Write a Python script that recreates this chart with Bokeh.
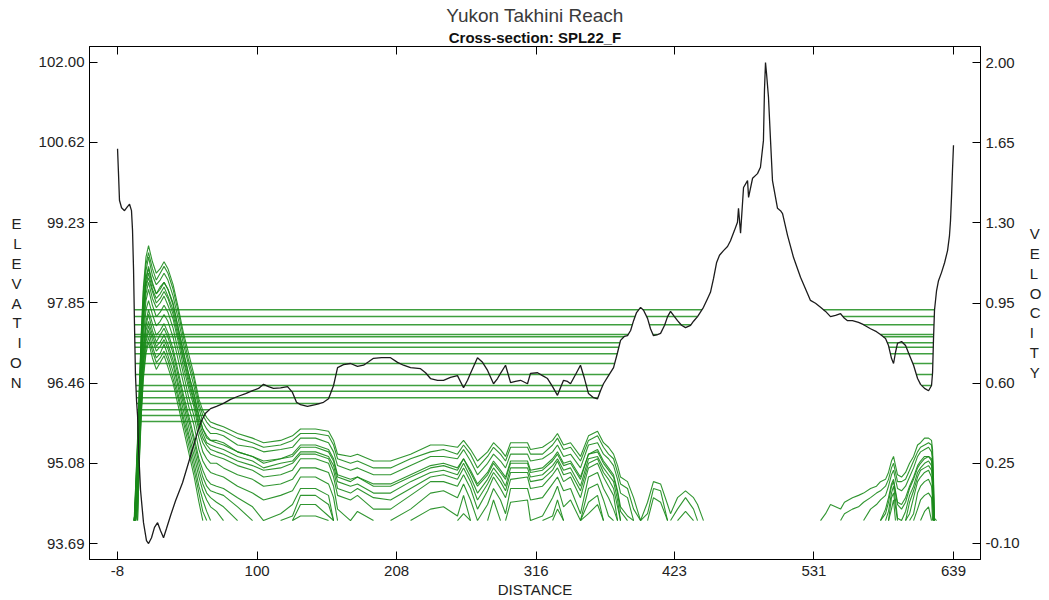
from bokeh.plotting import figure
from bokeh.models import Range1d, LinearAxis, FixedTicker, PrintfTickFormatter, Title
from bokeh.embed import file_html
from bokeh.resources import INLINE

# ---------------- texts ----------------
TITLE = "Yukon Takhini Reach"
SUBTITLE = "Cross-section: SPL22_F"
X_LABEL = "DISTANCE"
Y_LABEL = "ELEVATION"
Y2_LABEL = "VELOCITY"

# ---------------- ticks ----------------
DIST_TICKS = [-8, 100, 208, 316, 423, 531, 639]
ELEV_TICKS = [93.69, 95.08, 96.46, 97.85, 99.23, 100.62, 102.00]
VEL_TICKS = [-0.10, 0.25, 0.60, 0.95, 1.30, 1.65, 2.00]

# ---------------- ground profile (station, elevation) ----------------
GROUND_DIST = [
    -8.0, -7.2, -6.5, -4.9, -2.6, -0.3, 1.3, 2.8, 3.6, 4.4, 5.2, 5.9, 6.7, 7.5, 8.3, 9.8,
    12.1, 14.4, 16.0, 18.3, 20.6, 23.0, 25.3, 27.6, 29.9, 33.0, 36.9, 42.3, 47.0, 50.8,
    53.9, 57.0, 60.1, 64.0, 68.6, 74.0, 79.5, 84.9, 91.1, 96.5, 101.1, 105.0, 108.9,
    112.7, 118.2, 123.6, 127.4, 130.5, 133.6, 139.0, 145.2, 151.4, 155.3, 159.2, 162.3,
    166.9, 172.3, 177.7, 182.4, 186.3, 190.1, 196.3, 203.3, 208.7, 213.3, 218.8, 226.5,
    230.4, 234.2, 239.7, 244.3, 249.7, 255.1, 259.8, 262.9, 265.2, 270.6, 274.5, 278.4,
    283.0, 286.1, 288.4, 292.3, 296.2, 300.0, 303.9, 309.3, 311.6, 317.1, 320.9, 324.8,
    328.7, 332.5, 334.8, 337.2, 340.3, 342.6, 346.5, 350.3, 353.4, 356.5, 360.4, 363.5,
    365.8, 368.1, 372.0, 375.9, 379.0, 381.3, 384.4, 386.7, 389.1, 391.4, 393.7, 396.8,
    399.1, 402.2, 404.5, 406.8, 409.9, 412.3, 415.4, 417.7, 420.0, 422.3, 425.4, 428.5,
    431.6, 435.5, 437.8, 440.9, 445.5, 448.6, 450.9, 453.3, 455.6, 457.9, 461.0, 464.1,
    466.4, 469.5, 471.8, 472.6, 474.2, 476.5, 479.6, 480.4, 483.5, 487.3, 489.6, 491.9,
    492.7, 493.5, 494.3, 495.8, 497.4, 498.9, 502.8, 505.1, 506.7, 510.6, 515.2, 520.6,
    526.0, 528.3, 532.2, 536.1, 540.0, 543.8, 547.7, 551.6, 554.6, 557.0, 560.8, 565.5,
    569.4, 574.8, 579.4, 582.5, 586.4, 588.7, 591.0, 592.6, 594.1, 595.7, 598.8, 601.9,
    605.0, 608.1, 611.2, 613.5, 616.6, 619.7, 622.0, 622.8, 623.5, 624.3, 625.9, 627.4,
    629.7, 632.1, 634.4, 635.9, 636.7, 637.5, 638.2, 639.0,
]
GROUND_ELEV = [
    100.51, 100.05, 99.62, 99.49, 99.44, 99.51, 99.55, 99.44, 99.10, 98.41, 97.37, 96.59,
    96.16, 95.90, 95.30, 94.61, 94.05, 93.74, 93.69, 93.79, 93.97, 94.05, 93.91, 93.79,
    93.95, 94.17, 94.43, 94.74, 95.09, 95.38, 95.61, 95.81, 95.94, 96.02, 96.06, 96.11,
    96.18, 96.23, 96.28, 96.33, 96.37, 96.44, 96.40, 96.37, 96.38, 96.40, 96.30, 96.13,
    96.09, 96.06, 96.09, 96.13, 96.19, 96.42, 96.73, 96.78, 96.80, 96.75, 96.77, 96.83,
    96.89, 96.90, 96.90, 96.82, 96.77, 96.73, 96.71, 96.64, 96.54, 96.51, 96.51, 96.56,
    96.59, 96.38, 96.51, 96.63, 96.90, 96.82, 96.68, 96.45, 96.54, 96.63, 96.77, 96.47,
    96.49, 96.51, 96.45, 96.63, 96.64, 96.59, 96.54, 96.40, 96.25, 96.38, 96.51, 96.49,
    96.45, 96.61, 96.77, 96.54, 96.28, 96.21, 96.19, 96.33, 96.45, 96.59, 96.73, 96.99,
    97.20, 97.27, 97.28, 97.37, 97.54, 97.68, 97.77, 97.72, 97.58, 97.40, 97.28, 97.30,
    97.32, 97.46, 97.61, 97.70, 97.63, 97.54, 97.46, 97.42, 97.46, 97.53, 97.61, 97.77,
    97.92, 98.03, 98.27, 98.54, 98.67, 98.75, 98.82, 98.92, 99.10, 99.24, 99.48, 99.05,
    99.84, 99.96, 99.67, 100.00, 100.08, 100.19, 100.65, 101.52, 102.00, 101.81, 101.40,
    100.65, 99.96, 99.48, 99.44, 99.39, 99.01, 98.63, 98.29, 98.01, 97.89, 97.84, 97.77,
    97.70, 97.61, 97.63, 97.66, 97.58, 97.54, 97.54, 97.51, 97.47, 97.40, 97.35, 97.30,
    97.23, 97.11, 96.89, 96.80, 96.99, 97.15, 97.18, 97.11, 96.94, 96.77, 96.54, 96.44,
    96.37, 96.33, 96.42, 96.64, 97.20, 97.72, 98.06, 98.23, 98.37, 98.54, 98.75, 99.01,
    99.27, 99.70, 100.13, 100.57,
]

# ---------------- water surface elevations ----------------
WS_LEVELS = [97.73, 97.61, 97.47, 97.30, 97.26, 97.16, 97.08, 96.97, 96.80,
             96.61, 96.42, 96.32, 96.21, 96.11, 96.00, 95.90, 95.80]
SUBSECTIONS = [(-8.0, 396.8), (396.8, 493.5), (493.5, 639.0)]

# ---------------- velocity distributions ----------------
VEL_ST_LEFT = [
    4.5, 5.0, 6.0, 7.5, 9.0, 10.5, 12.0, 14.0, 16.0, 19.0, 22.0, 25.0, 28.0, 31.0, 35.0,
    39.0, 43.0, 47.0, 51.0, 55.0, 58.0, 61.0, 64.0,
    68.6, 74.0, 84.9, 96.5, 105.0, 118.2, 127.4, 133.6, 145.2, 155.3, 159.2, 162.3,
    172.3, 177.7, 190.1, 203.3, 218.8, 234.2, 244.3, 255.1, 259.8, 265.2, 270.6, 278.4,
    283.0, 288.4, 292.3, 296.2, 309.3, 311.6, 320.9, 328.7, 332.5, 337.2, 342.6, 350.3,
    356.5, 363.5, 368.1, 372.0, 375.9, 379.0, 381.3, 386.7, 391.4, 396.8, 402.2, 406.8,
    412.3, 417.7, 420.0, 425.4, 431.6, 437.8, 440.9, 445.5,
]
VEL_ST_RIGHT = [
    536.1, 540.0, 543.8, 547.7, 551.6, 554.6, 560.8, 565.5, 569.4, 574.8, 579.4, 582.5,
    586.4, 588.7, 591.0, 592.6, 594.1, 595.7, 598.8, 601.9, 605.0, 608.1, 611.2, 613.5,
    616.6, 619.7, 622.0, 622.8, 623.5, 624.3, 625.9,
]

VL_9773 = [0, .02, .15, .36, .61, .84, 1.02, 1.15, 1.20, 1.13, 1.08, 1.10, 1.13, 1.10, 1.03, .93, .82, .73, .64, .53, .48, .45, .43,
           .42, .41, .38, .36, .34, .35, .37, .40, .40, .39, .35, .29, .28, .29, .26, .26, .29, .33, .33, .32, .35, .31, .26, .30,
           .34, .31, .28, .34, .34, .31, .32, .35, .38, .33, .34, .28, .37, .39, .34, .32, .29, .24, .19, .17, .10, 0, .08, .17,
           .16, .07, .03, .10, .13, .10, .07, 0]
VL_9761 = [0, 0, .14, .34, .59, .82, 1.00, 1.12, 1.17, 1.10, 1.05, 1.08, 1.11, 1.08, 1.01, .91, .80, .70, .62, .51, .46, .43, .41,
           .40, .39, .36, .34, .32, .33, .35, .38, .38, .37, .33, .27, .25, .26, .23, .23, .27, .30, .31, .29, .33, .29, .23, .28,
           .32, .29, .26, .32, .32, .29, .29, .33, .36, .31, .32, .26, .35, .37, .32, .29, .27, .21, .16, .14, .05, 0, .03, .14,
           .13, 0, 0, .05, .10, .05, 0, 0]
VL_9747 = [0, 0, .12, .32, .57, .80, .97, 1.09, 1.15, 1.07, 1.03, 1.05, 1.08, 1.05, .98, .88, .77, .68, .59, .49, .43, .40, .38,
           .38, .37, .33, .32, .30, .31, .32, .36, .36, .34, .30, .24, .22, .23, .20, .20, .24, .28, .28, .27, .31, .26, .20, .25,
           .29, .26, .23, .29, .29, .26, .27, .30, .33, .28, .29, .23, .33, .34, .29, .27, .24, .18, .12, .10, 0, 0, 0, .10,
           .08, 0, 0, 0, .04, 0]
VL_9730 = [0, 0, .11, .30, .54, .77, .94, 1.06, 1.11, 1.04, .99, 1.02, 1.04, 1.01, .95, .84, .74, .64, .56, .46, .40, .37, .35,
           .35, .34, .30, .28, .26, .27, .29, .33, .33, .31, .27, .20, .18, .19, .16, .16, .20, .24, .25, .23, .27, .22, .16, .21,
           .26, .22, .19, .26, .26, .22, .23, .27, .30, .25, .26, .19, .29, .31, .26, .23, .20, .13, .06, .02, 0]
VL_9726 = [0, 0, .10, .29, .54, .76, .93, 1.05, 1.10, 1.03, .99, 1.01, 1.04, 1.01, .94, .84, .73, .64, .55, .45, .40, .36, .35,
           .34, .33, .30, .28, .25, .27, .28, .32, .32, .30, .26, .19, .17, .19, .15, .15, .19, .23, .24, .22, .27, .21, .15, .20,
           .25, .21, .18, .25, .25, .21, .22, .26, .29, .24, .25, .18, .29, .30, .25, .22, .19, .12, .04, 0]
VL_9716 = [0, 0, .09, .28, .52, .74, .91, 1.03, 1.08, 1.01, .97, .99, 1.02, .98, .92, .82, .71, .62, .53, .43, .38, .34, .33,
           .32, .31, .28, .26, .23, .25, .26, .30, .30, .28, .24, .17, .15, .16, .12, .12, .17, .21, .22, .20, .25, .19, .12, .18,
           .23, .19, .15, .23, .23, .19, .20, .24, .27, .22, .23, .15, .27, .28, .23, .20, .17, .09, 0]
VL_9708 = [0, 0, .09, .27, .51, .73, .90, 1.02, 1.06, 1.00, .95, .97, 1.00, .97, .90, .80, .70, .60, .52, .41, .36, .33, .31,
           .30, .29, .26, .24, .22, .23, .25, .29, .29, .27, .22, .14, .12, .14, .10, .09, .14, .19, .20, .18, .23, .17, .09, .16,
           .21, .17, .13, .21, .21, .17, .18, .22, .26, .20, .21, .13, .25, .27, .21, .18, .14, .06, 0]
VL_9697 = [0, 0, .07, .25, .49, .71, .87, .99, 1.04, .97, .93, .95, .98, .94, .88, .78, .67, .58, .50, .39, .34, .31, .29,
           .28, .27, .24, .22, .19, .20, .22, .27, .27, .25, .19, .11, .09, .11, .05, .05, .11, .17, .17, .15, .20, .14, .05, .13,
           .19, .14, .10, .18, .19, .14, .15, .20, .23, .17, .19, .10, .23, .25, .19, .15, .11, 0]
VL_9680 = [0, 0, .05, .22, .46, .67, .84, .96, 1.01, .94, .89, .91, .94, .91, .84, .74, .64, .54, .46, .36, .30, .27, .25,
           .25, .23, .20, .18, .15, .16, .18, .23, .23, .21, .15, .05, 0, .04, 0, 0, .05, .12, .13, .10, .16, .09, 0, .07,
           .14, .09, .03, .14, .14, .09, .10, .16, .19, .13, .14, .03, .19, .21, .14, .10, .05, 0]
VL_9661 = [0, 0, .02, .19, .43, .64, .80, .92, .96, .90, .85, .87, .90, .87, .80, .70, .60, .50, .42, .31, .26, .23, .21,
           .20, .19, .15, .12, .09, .11, .13, .19, .19, .16, .10, 0, 0, 0, 0, 0, 0, .05, .06, .02, .11, 0, 0, 0,
           .09, 0, 0, .08, .09, 0, .02, .10, .15, .06, .09, 0, .14, .16, .09, .02, 0]
VL_9642 = [0, 0, 0, .16, .40, .60, .76, .87, .92, .86, .81, .83, .86, .82, .75, .65, .55, .46, .37, .27, .22, .18, .16,
           .15, .14, .10, .06, 0, .03, .07, .14, .14, .11, 0, 0, 0, 0, 0, 0, 0, 0, 0, 0, .03, 0, 0, 0,
           0, 0, 0, 0, 0, 0, 0, .02, .09, 0, 0, 0, .08, .11, 0]
VL_9632 = [0, 0, 0, .13, .38, .58, .74, .85, .90, .83, .78, .81, .84, .80, .73, .63, .53, .44, .35, .25, .19, .15, .13,
           .12, .11, .06, 0, 0, 0, .02, .11, .11, .07, 0, 0, 0, 0, 0, 0, 0, 0, 0, 0, 0, 0, 0, 0,
           0, 0, 0, 0, 0, 0, 0, 0, .05, 0, 0, 0, .03, .07, 0]
VL_9621 = [0, 0, 0, .11, .36, .56, .71, .83, .87, .81, .76, .78, .81, .77, .70, .60, .51, .41, .32, .22, .16, .12, .10,
           .08, .06, 0, 0, 0, 0, 0, .07, .07, .02, 0]
VL_9611 = [0, 0, 0, .08, .34, .53, .69, .80, .85, .79, .74, .76, .79, .75, .68, .58, .48, .38, .29, .19, .13, .09, .06,
           .04, 0, 0, 0, 0, 0, 0, .02, .02, 0]
VL_9600 = [0, 0, 0, .05, .31, .51, .67, .78, .83, .76, .71, .73, .77, .72, .65, .55, .45, .36, .26, .15, .09, .04, 0]
VL_9590 = [0, 0, 0, 0, .29, .49, .64, .75, .80, .74, .69, .71, .74, .70, .62, .53, .43, .33, .23, .12, .04, 0]
VL_9580 = [0, 0, 0, 0, .27, .47, .62, .73, .78, .71, .66, .69, .72, .67, .60, .50, .40, .30, .20, .08, 0]

VR_9773 = [0, .03, .07, .06, .05, .08, .10, .11, .12, .14, .15, .17, .18, .21, .26, .28, .24, .20, .19, .21, .25, .28,
           .33, .34, .36, .36, .35, .31, .19, .01, 0]
VR_9761 = [0, 0, 0, 0, 0, .03, .05, .06, .08, .10, .12, .13, .15, .18, .23, .25, .21, .17, .17, .18, .22, .26,
           .30, .32, .33, .34, .33, .28, .16, 0, 0]
VR_9747 = [0, 0, 0, 0, 0, 0, 0, 0, 0, .05, .07, .09, .11, .15, .20, .22, .18, .14, .13, .15, .19, .23,
           .28, .30, .31, .32, .30, .26, .12, 0]
VR_9730 = [0, 0, 0, 0, 0, 0, 0, 0, 0, 0, 0, 0, .05, .10, .16, .18, .13, .08, .07, .10, .15, .19,
           .24, .26, .28, .28, .27, .22, .06, 0]
VR_9726 = [0, 0, 0, 0, 0, 0, 0, 0, 0, 0, 0, 0, .03, .08, .15, .17, .12, .07, .05, .08, .14, .18,
           .23, .25, .27, .28, .26, .21, .04, 0]
VR_9716 = [0, 0, 0, 0, 0, 0, 0, 0, 0, 0, 0, 0, 0, .04, .12, .15, .09, .01, 0, .04, .11, .15,
           .21, .23, .25, .26, .24, .19, 0]
VR_9708 = [0, 0, 0, 0, 0, 0, 0, 0, 0, 0, 0, 0, 0, 0, .10, .12, .06, 0, 0, 0, .08, .13,
           .19, .22, .23, .24, .22, .17, 0]
VR_9697 = [0, 0, 0, 0, 0, 0, 0, 0, 0, 0, 0, 0, 0, 0, .05, .09, 0, 0, 0, 0, .03, .10,
           .17, .19, .21, .22, .19, .14, 0]
VR_9680 = [0, 0, 0, 0, 0, 0, 0, 0, 0, 0, 0, 0, 0, 0, 0, 0, 0, 0, 0, 0, 0, .03,
           .12, .15, .17, .18, .15, .09, 0]
VR_9661 = [0, 0, 0, 0, 0, 0, 0, 0, 0, 0, 0, 0, 0, 0, 0, 0, 0, 0, 0, 0, 0, 0,
           .05, .09, .11, .12, .10, 0]
VR_9642 = [0, 0, 0, 0, 0, 0, 0, 0, 0, 0, 0, 0, 0, 0, 0, 0, 0, 0, 0, 0, 0, 0,
           0, 0, .04, .06, 0]

VEL_LEFT = [VL_9773, VL_9761, VL_9747, VL_9730, VL_9726, VL_9716, VL_9708, VL_9697, VL_9680,
            VL_9661, VL_9642, VL_9632, VL_9621, VL_9611, VL_9600, VL_9590, VL_9580]
VEL_RIGHT = [VR_9773, VR_9761, VR_9747, VR_9730, VR_9726, VR_9716, VR_9708, VR_9697, VR_9680,
             VR_9661, VR_9642]

# ---------------- styling ----------------
FONT = "Liberation Sans"
TEXT_COLOR = "#222222"
GROUND_COLOR = "#1c1c1c"
WS_COLOR = "#3f9f3f"
VEL_COLOR = "#1a8a1a"

# ---------------- figure ----------------
p = figure(width=1049, height=600,
           x_range=Range1d(-29.7, 659.9), y_range=Range1d(93.414, 102.276),
           output_backend="svg", toolbar_location=None,
           min_border_left=89, min_border_right=69, min_border_top=46, min_border_bottom=41)
p.extra_y_ranges = {"vel": Range1d(-0.170, 2.070)}
p.background_fill_color = "white"
p.border_fill_color = "white"
p.outline_line_color = "black"
p.outline_line_width = 1
p.xgrid.grid_line_color = None
p.ygrid.grid_line_color = None


def style_axis(ax, standoff=5, size="15px"):
    ax.major_tick_in = 8
    ax.major_tick_out = 0
    ax.minor_tick_in = 0
    ax.minor_tick_out = 0
    ax.major_tick_line_color = "black"
    ax.axis_line_color = "black"
    ax.major_label_standoff = standoff
    ax.major_label_text_font = FONT
    ax.major_label_text_font_size = size
    ax.major_label_text_color = TEXT_COLOR
    ax.axis_label_text_font = FONT
    ax.axis_label_text_font_size = "15px"
    ax.axis_label_text_font_style = "normal"
    ax.axis_label_text_color = TEXT_COLOR
    ax.axis_label_text_line_height = 1.17


xa = p.xaxis[0]
xa.ticker = FixedTicker(ticks=DIST_TICKS)
xa.formatter = PrintfTickFormatter(format="%d")
style_axis(xa, standoff=6)
xa.axis_label = X_LABEL
xa.axis_label_standoff = 2

ya = p.yaxis[0]
ya.ticker = FixedTicker(ticks=ELEV_TICKS)
ya.formatter = PrintfTickFormatter(format="%.2f")
style_axis(ya)

ra = LinearAxis(y_range_name="vel", ticker=FixedTicker(ticks=VEL_TICKS),
                formatter=PrintfTickFormatter(format="%.2f"))
style_axis(ra)
p.add_layout(ra, "right")

try:
    ya.axis_label_orientation = "horizontal"
    ra.axis_label_orientation = "horizontal"
    ya.axis_label = "\n".join(Y_LABEL)
    ra.axis_label = "\n".join(Y2_LABEL)
    ya.axis_label_standoff = 14
    ra.axis_label_standoff = 7
except (AttributeError, ValueError):
    ya.axis_label = Y_LABEL
    ra.axis_label = Y2_LABEL

# top axis: tick marks only
ta = LinearAxis(ticker=FixedTicker(ticks=DIST_TICKS))
style_axis(ta, standoff=0, size="1px")
ta.major_label_overrides = {t: "" for t in DIST_TICKS}
p.add_layout(ta, "above")

p.title.text = ""
p.add_layout(Title(text=SUBTITLE, align="center", offset=-8, standoff=2,
                   text_font=FONT, text_font_size="15px", text_font_style="bold",
                   text_color="#111111"), "above")
p.add_layout(Title(text=TITLE, align="center", offset=-8, standoff=0,
                   text_font=FONT, text_font_size="19px", text_font_style="normal",
                   text_color="#3a3a3a"), "above")


# ---------------- water surface lines ----------------
def crossing(d0, e0, d1, e1, level):
    if e1 == e0:
        return d0
    return d0 + (level - e0) * (d1 - d0) / (e1 - e0)


ws_xs, ws_ys = [], []
n_g = len(GROUND_DIST)
for level in WS_LEVELS:
    for lo, hi in SUBSECTIONS:
        idx = [i for i, d in enumerate(GROUND_DIST) if lo <= d <= hi]
        wet = [i for i in idx if GROUND_ELEV[i] < level]
        if not wet:
            continue
        i0, i1 = wet[0], wet[-1]
        x0 = (crossing(GROUND_DIST[i0 - 1], GROUND_ELEV[i0 - 1], GROUND_DIST[i0], GROUND_ELEV[i0], level)
              if i0 > 0 else GROUND_DIST[i0])
        x1 = (crossing(GROUND_DIST[i1], GROUND_ELEV[i1], GROUND_DIST[i1 + 1], GROUND_ELEV[i1 + 1], level)
              if i1 < n_g - 1 else GROUND_DIST[i1])
        ws_xs.append([x0, x1])
        ws_ys.append([level, level])

p.multi_line(ws_xs, ws_ys, line_color=WS_COLOR, line_width=1.5)


# ---------------- velocity curves ----------------
def polylines(stations, values):
    out, cur = [], None
    pts = list(zip(stations, values))
    for a, b in zip(pts[:-1], pts[1:]):
        if a[1] > 0 or b[1] > 0:
            if cur is None:
                cur = [a]
            cur.append(b)
        else:
            if cur:
                out.append(cur)
            cur = None
    if cur:
        out.append(cur)
    return out


v_xs, v_ys = [], []
for vals in VEL_LEFT:
    for line in polylines(VEL_ST_LEFT, vals):
        v_xs.append([q[0] for q in line])
        v_ys.append([q[1] for q in line])
for vals in VEL_RIGHT:
    for line in polylines(VEL_ST_RIGHT, vals):
        v_xs.append([q[0] for q in line])
        v_ys.append([q[1] for q in line])

p.multi_line(v_xs, v_ys, line_color=VEL_COLOR, line_width=1.1, line_alpha=0.9, y_range_name="vel")

# ---------------- ground profile ----------------
p.line(GROUND_DIST, GROUND_ELEV, line_color=GROUND_COLOR, line_width=1.3)

open("out.html", "w").write(file_html(p, INLINE))
